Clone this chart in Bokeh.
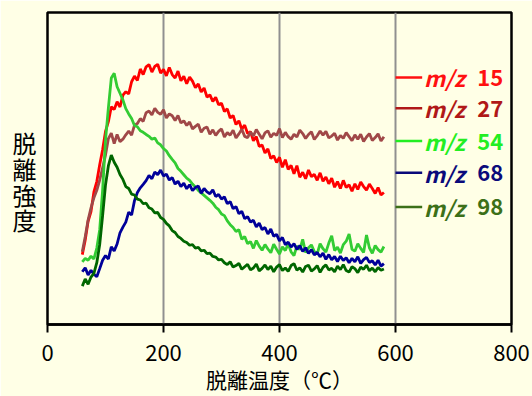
from bokeh.plotting import figure
from bokeh.models import Range1d, FixedTicker
from bokeh.core.properties import value
from bokeh.embed import file_html
from bokeh.resources import INLINE

# ---- data (temperature in degC, intensity in arbitrary units 0-100) ----
temps = list(range(60, 581, 5))

mz15 = [22.4, 27.0, 33.1, 36.2, 42.5, 45.8, 51.2, 56.0, 61.9, 65.0,
        69.8, 68.9, 71.4, 69.7, 73.5, 74.6, 73.9, 77.8, 79.6, 78.2,
        81.9, 80.1, 82.6, 83.3, 80.9, 82.7, 83.4, 80.6, 81.8, 79.7,
        82.4, 80.1, 79.0, 81.2, 78.1, 79.6, 77.2, 79.3, 78.0, 75.9,
        77.1, 74.5, 75.8, 72.9, 73.6, 71.5, 72.8, 70.4, 70.9, 68.3,
        69.1, 66.2, 67.0, 64.1, 65.3, 62.6, 63.9, 61.2, 61.8, 58.9,
        60.2, 57.1, 57.5, 55.0, 56.3, 53.2, 54.1, 51.9, 53.6, 50.4,
        52.8, 49.7, 51.0, 48.3, 50.9, 47.2, 48.8, 46.7, 49.5, 47.4,
        48.1, 46.2, 48.6, 45.9, 47.3, 45.1, 46.9, 44.0, 45.8, 43.6,
        46.2, 43.9, 44.8, 42.7, 45.1, 43.3, 45.7, 44.2, 43.1, 45.0,
        43.6, 42.0, 43.9, 41.5, 42.3]

mz27 = [23.3, 28.1, 33.5, 37.4, 40.6, 43.0, 46.3, 50.2, 54.3, 59.6,
        61.3, 58.0, 60.9, 58.6, 59.4, 60.8, 62.0, 60.7, 63.9, 64.4,
        66.0, 65.1, 67.9, 68.4, 67.2, 69.3, 68.0, 67.4, 68.8, 66.2,
        67.5, 66.9, 65.4, 67.0, 64.6, 65.3, 63.8, 64.9, 62.7, 63.5,
        64.2, 61.6, 62.9, 63.3, 61.0, 62.4, 60.6, 61.9, 62.7, 60.1,
        61.5, 60.7, 62.3, 59.8, 61.1, 62.6, 60.3, 59.9, 61.7, 60.4,
        62.5, 61.0, 59.5, 61.4, 62.1, 60.0, 61.3, 60.6, 62.8, 59.9,
        61.6, 60.2, 59.4, 61.0, 60.1, 62.3, 61.2, 59.6, 60.9, 61.8,
        59.3, 60.5, 62.0, 60.7, 61.9, 59.8, 60.4, 61.3, 59.1, 60.6,
        59.7, 61.5, 60.2, 58.9, 60.8, 59.4, 61.0, 58.7, 60.1, 61.2,
        59.0, 59.9, 61.1, 58.8, 60.2]

mz54 = [20.1, 21.2, 20.6, 21.9, 21.0, 24.5, 30.4, 43.0, 59.0, 69.5,
        79.0, 80.5, 76.2, 74.1, 72.0, 69.2, 67.5, 66.0, 63.8, 63.4,
        62.1, 61.6, 60.9, 60.3, 59.4, 59.8, 58.2, 57.6, 56.4, 55.6,
        54.1, 52.9, 51.8, 50.0, 49.1, 48.0, 46.9, 46.2, 45.0, 44.1,
        43.0, 42.2, 41.4, 40.6, 39.8, 38.9, 37.6, 36.8, 35.4, 34.9,
        33.2, 32.0, 31.1, 29.8, 30.4, 27.3, 28.2, 25.9, 26.6, 24.4,
        26.9, 25.1, 23.8, 25.6, 24.2, 23.0, 25.7, 24.1, 22.6, 24.9,
        23.7, 25.8, 23.3, 22.1, 25.2, 24.0, 27.3, 23.1, 24.6, 25.5,
        23.4, 22.6, 25.9, 24.3, 23.2, 26.1, 28.4, 23.7, 24.8, 22.9,
        25.6, 26.7, 29.0, 24.1, 23.5, 25.9, 24.4, 23.1, 28.7, 24.6,
        22.8, 25.3, 24.0, 23.2, 25.0]

mz68 = [16.9, 18.2, 15.9, 17.4, 16.1, 15.3, 17.9, 20.6, 22.1, 21.0,
        24.9, 23.6, 25.8, 29.4, 31.2, 32.8, 36.0, 35.1, 39.7, 42.3,
        43.8, 44.9, 46.1, 47.8, 46.7, 48.9, 48.0, 49.5, 47.6, 48.2,
        46.3, 47.1, 45.0, 45.9, 44.2, 45.3, 43.5, 44.8, 42.9, 43.9,
        44.4, 42.1, 43.6, 42.5, 41.9, 43.2, 41.0, 41.7, 40.2, 40.9,
        38.7, 39.4, 37.1, 37.8, 35.5, 36.3, 33.9, 34.6, 32.8, 33.4,
        31.3, 32.5, 30.4, 31.1, 29.0, 30.6, 28.3, 28.9, 26.8, 27.9,
        25.6, 26.4, 24.8, 25.9, 24.1, 25.3, 23.4, 24.6, 22.8, 24.0,
        22.3, 23.1, 21.7, 22.9, 20.9, 22.4, 20.7, 21.8, 20.2, 21.9,
        20.5, 21.4, 19.8, 21.2, 20.1, 21.7, 19.6, 20.8, 21.5, 19.9,
        20.4, 19.1, 20.6, 18.7, 19.5]

mz98 = [12.3, 14.6, 12.9, 15.2, 16.4, 19.8, 25.6, 34.8, 44.7, 50.9,
        54.3, 52.0, 50.4, 48.1, 46.5, 44.2, 43.6, 41.8, 41.5, 40.2,
        39.9, 38.7, 38.9, 37.4, 37.0, 35.8, 35.9, 34.3, 33.7, 32.4,
        31.6, 30.1, 29.5, 28.2, 27.6, 26.7, 26.3, 25.4, 25.6, 24.5,
        24.7, 23.6, 23.8, 22.7, 22.9, 21.8, 21.6, 20.7, 20.9, 19.8,
        19.2, 20.1, 18.4, 18.9, 19.6, 17.7, 18.5, 19.3, 17.5, 18.1,
        19.4, 17.2, 18.0, 19.1, 17.6, 18.7, 16.9, 18.4, 19.2, 17.3,
        18.1, 17.0, 18.9, 19.5, 17.4, 18.2, 16.8, 18.6, 19.0, 17.1,
        17.8, 18.9, 16.7, 18.3, 19.1, 17.5, 18.0, 16.9, 18.7, 17.6,
        19.2, 17.3, 16.8, 18.5, 17.9, 16.6, 18.4, 17.7, 19.0, 17.2,
        18.1, 16.9, 18.3, 17.4, 17.8]

series_names = ["15", "27", "54", "68", "98"]
series_values = [mz15, mz27, mz54, mz68, mz98]
line_colors = ["#FF0000", "#A04848", "#33CC33", "#000099", "#006600"]
legend_colors = ["#FF1010", "#B01818", "#22EE22", "#0A0A7A", "#3C7018"]
x_ticks = [0, 200, 400, 600, 800]
x_title = "脱離温度（℃）"
y_title = " \n脱\n離\n強\n度"

BG = "#FFFFE6"
FONT = "Noto Sans CJK JP"

p = figure(width=532, height=396, output_backend="svg", toolbar_location=None,
           x_range=Range1d(0, 800), y_range=Range1d(0, 100),
           min_border_left=47, min_border_right=21, min_border_top=12, min_border_bottom=71)
p.background_fill_color = BG
p.border_fill_color = BG
p.outline_line_color = "black"
p.outline_line_width = 2.5

p.ygrid.visible = False
p.xgrid.ticker = FixedTicker(ticks=[200, 400, 600])
p.xgrid.grid_line_color = "#909090"
p.xgrid.grid_line_width = 2

ya = p.yaxis[0]
ya.ticker = FixedTicker(ticks=[])
ya.axis_line_color = None
ya.major_tick_line_color = None
ya.minor_tick_line_color = None
ya.axis_label = y_title
ya.axis_label_text_font = FONT
ya.axis_label_text_font_size = "24px"
ya.axis_label_text_font_style = "normal"
ya.axis_label_text_color = "black"
ya.axis_label_text_line_height = 0.73
ya.axis_label_standoff = 11
try:
    ya.axis_label_orientation = "horizontal"
except Exception:
    pass

xa = p.xaxis[0]
xa.ticker = FixedTicker(ticks=x_ticks)
xa.axis_line_color = "black"
xa.axis_line_width = 2.5
xa.major_tick_line_color = "black"
xa.major_tick_line_width = 2
xa.major_tick_out = 8
xa.major_tick_in = 0
xa.minor_tick_line_color = None
xa.major_label_text_font = FONT
xa.major_label_text_font_size = "22px"
xa.major_label_text_color = "black"
xa.major_label_standoff = 12
xa.axis_label = x_title
xa.axis_label_text_font = FONT
xa.axis_label_text_font_size = "21px"
xa.axis_label_text_font_style = "normal"
xa.axis_label_text_color = "black"
xa.axis_label_standoff = 0

for vals, col in zip(series_values, line_colors):
    p.line(temps, vals, line_color=col, line_width=2.8)

# legend (drawn as text in the right part of the frame)
leg_y = [79.2, 69.3, 58.8, 48.6, 37.7]
for name, col, ly in zip(series_names, legend_colors, leg_y):
    p.segment(x0=[600], y0=[ly], x1=[646], y1=[ly], line_color=col, line_width=2.5)
    p.text(x=[649], y=[ly], text=["m/z"], text_color=col, text_font=value(FONT),
           text_font_size="22px", text_font_style="bold italic", text_baseline="middle")
    p.text(x=[741], y=[ly], text=[name], text_color=col, text_font=value(FONT),
           text_font_size="22px", text_font_style="bold", text_baseline="middle")

html = file_html(p, INLINE)
html = html.replace("<body>", '<body style="background-color:%s">' % BG, 1)
open("out.html", "w").write(html)
